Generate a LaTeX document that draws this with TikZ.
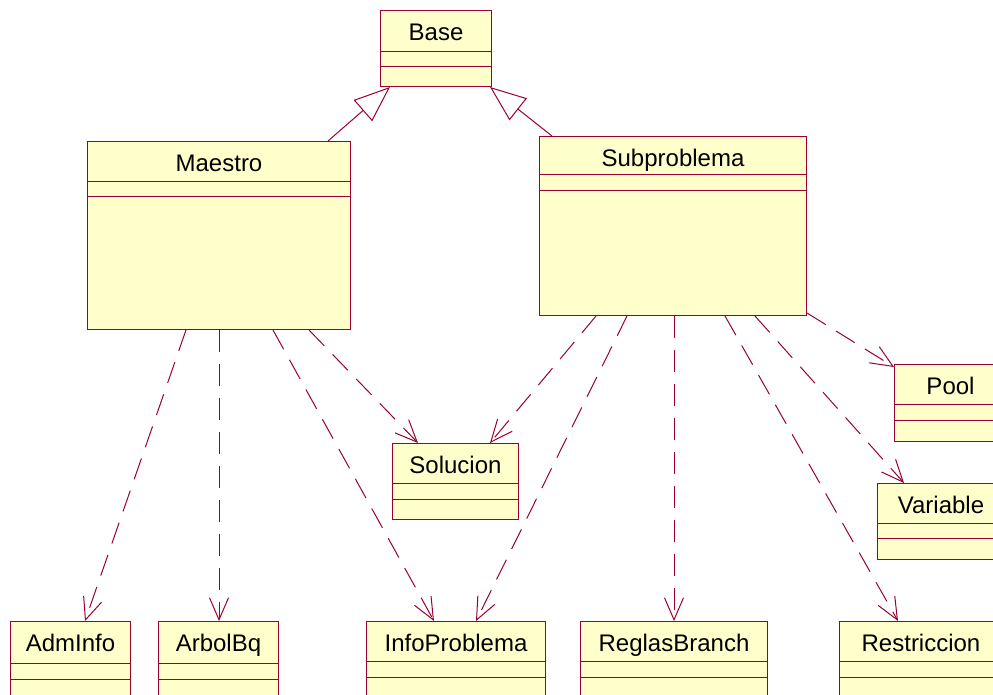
\documentclass[tikz,border=0pt]{standalone}
\usepackage{fontspec}
\setmainfont{Liberation Sans}
\usetikzlibrary{arrows.meta,calc}
\definecolor{borde}{RGB}{153,0,51}
\definecolor{crema}{RGB}{255,255,204}

\begin{document}
\begin{tikzpicture}[x=1pt, y=-1pt,
  clase/.style={rectangle, draw=borde, fill=crema, line width=1pt, anchor=north west,
    inner sep=0pt, text height=30pt, font=\fontsize{24}{28}\selectfont},
  depende/.style={draw=borde, line width=1pt, dash pattern=on 22pt off 12pt,
    -{Straight Barb[length=22pt, width=19pt]}},
  hereda/.style={draw=borde, line width=1pt, -{Triangle[open, length=36pt, width=28pt]}}]
\useasboundingbox (0,0) rectangle (993,694);
\clip (0,0) rectangle (993,694);

% clases
\node[clase, minimum width=111pt, text depth=46pt] (base) at (380,10) {Base};
\node[clase, minimum width=263pt, text depth=158pt] (maestro) at (87,141) {Maestro};
\node[clase, minimum width=267pt, text depth=149pt] (subproblema) at (539,136) {Subproblema};
\node[clase, minimum width=130pt, text depth=47pt] (pool) at (894,364) {Pool\hspace*{18pt}};
\node[clase, minimum width=140pt, text depth=46pt] (variable) at (877,483) {Variable\hspace*{13pt}};
\node[clase, minimum width=126pt, text depth=46pt] (solucion) at (392,443) {Solucion};
\node[clase, minimum width=120pt, text depth=50pt] (adminfo) at (10,621) {AdmInfo};
\node[clase, minimum width=120pt, text depth=50pt] (arbolbq) at (158,621) {ArbolBq};
\node[clase, minimum width=179pt, text depth=50pt] (infoproblema) at (366,621) {InfoProblema};
\node[clase, minimum width=187pt, text depth=50pt] (reglasbranch) at (580,621) {ReglasBranch};
\node[clase, minimum width=170pt, text depth=50pt] (restriccion) at (839,621) {Restriccion\hspace*{7pt}};

% compartimentos
\foreach \c/\a/\b in {base/41/56, maestro/40/55, subproblema/38/54, pool/40/56,
    variable/40/55, solucion/40/56, adminfo/42/58, arbolbq/42/58,
    infoproblema/40/56, reglasbranch/40/56, restriccion/40/56} {
  \draw[borde, line width=1pt] ([yshift=-\a pt]\c.north west) -- ([yshift=-\a pt]\c.north east);
  \draw[borde, line width=1pt] ([yshift=-\b pt]\c.north west) -- ([yshift=-\b pt]\c.north east);
}

% herencia
\draw[hereda] ([xshift=241pt]maestro.north west) -- ([xshift=10pt]base.south west);
\draw[hereda] ([xshift=13pt]subproblema.north west) -- ([xshift=-2pt]base.south east);

% dependencias de Maestro
\draw[depende] ([xshift=99pt]maestro.south west) -- ([xshift=75pt]adminfo.north west);
\draw[depende] ([xshift=132pt]maestro.south west) -- ([xshift=61pt]arbolbq.north west);
\draw[depende] ([xshift=186pt]maestro.south west) -- ([xshift=68pt]infoproblema.north west);
\draw[depende] ([xshift=222pt]maestro.south west) -- ([xshift=26pt]solucion.north west);

% dependencias de Subproblema
\draw[depende] ([xshift=57pt]subproblema.south west) -- ([xshift=98pt]solucion.north west);
\draw[depende] ([xshift=88pt]subproblema.south west) -- ([xshift=110pt]infoproblema.north west);
\draw[depende] ([xshift=135pt]subproblema.south west) -- ([xshift=94pt]reglasbranch.north west);
\draw[depende] ([xshift=186pt]subproblema.south west) -- ([xshift=59pt]restriccion.north west);
\draw[depende] ([xshift=216pt]subproblema.south west) -- ([xshift=27pt]variable.north west);
\draw[depende] ([yshift=3pt]subproblema.south east) -- ([yshift=-3pt]pool.north west);
\end{tikzpicture}
\end{document}
